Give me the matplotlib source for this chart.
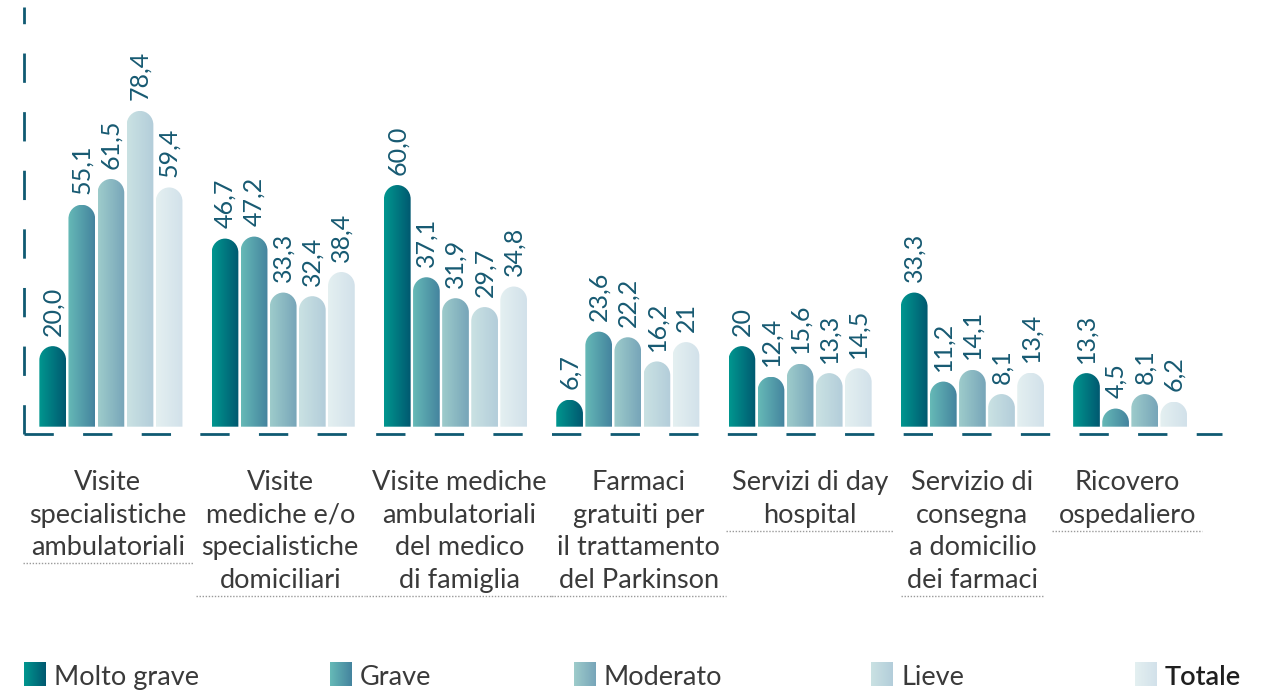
import numpy as np
import matplotlib
matplotlib.use("Agg")
import matplotlib.pyplot as plt
from matplotlib.path import Path
from matplotlib.patches import PathPatch
from matplotlib.colors import LinearSegmentedColormap
from matplotlib.transforms import blended_transform_factory

plt.rcParams['font.family'] = ['Lato', 'DejaVu Sans']
plt.rcParams['lines.scale_dashes'] = False

categories = [
    "Visite\nspecialistiche\nambulatoriali",
    "Visite\nmediche e/o\nspecialistiche\ndomiciliari",
    "Visite mediche\nambulatoriali\ndel medico\ndi famiglia",
    "Farmaci\ngratuiti per\nil trattamento\ndel Parkinson",
    "Servizi di day\nhospital",
    "Servizio di\nconsegna\na domicilio\ndei farmaci",
    "Ricovero\nospedaliero",
]
series_names = ["Molto grave", "Grave", "Moderato", "Lieve", "Totale"]
molto_grave = ["20,0", "46,7", "60,0", "6,7", "20", "33,3", "13,3"]
grave = ["55,1", "47,2", "37,1", "23,6", "12,4", "11,2", "4,5"]
moderato = ["61,5", "33,3", "31,9", "22,2", "15,6", "14,1", "8,1"]
lieve = ["78,4", "32,4", "29,7", "16,2", "13,3", "8,1", None]
totale = ["59,4", "38,4", "34,8", "21", "14,5", "13,4", "6,2"]
series = [molto_grave, grave, moderato, lieve, totale]

# gradient left -> right for each series
grad_colors = [
    ("#00978f", "#005870"),
    ("#66bab7", "#44839e"),
    ("#9ecccb", "#77a5b9"),
    ("#cae2e3", "#b3cdda"),
    ("#e4f0f1", "#d2e1ea"),
]
label_color = "#175a72"
text_color = "#3a3a3a"

W, H = 1267, 691
fig = plt.figure(figsize=(W / 100, H / 100), dpi=100)
ax = fig.add_axes([24 / W, (H - 433.5) / H, (1222 - 24) / W, (433.5 - 7) / H])
ov = fig.add_axes([0, 0, 1, 1], zorder=-1)
ov.set_xlim(0, W)
ov.set_ylim(H, 0)
ov.axis("off")

pitch = 0.1689
bw = 0.155
px_per_unit = 4.027
ry = 14 / px_per_unit
K = 0.5523

ax.set_xlim(-0.5044, 6.4486)
ax.set_ylim(-1.69, 104.2)
ax.axis("off")


def bar_path(x0, x1, h):
    rx = (x1 - x0) / 2
    r = min(ry, h)
    xc = x0 + rx
    verts = [(x0, 0), (x0, h - r),
             (x0, h - r + K * r), (xc - K * rx, h), (xc, h),
             (xc + K * rx, h), (x1, h - r + K * r), (x1, h - r),
             (x1, 0), (x0, 0)]
    codes = [Path.MOVETO, Path.LINETO,
             Path.CURVE4, Path.CURVE4, Path.CURVE4,
             Path.CURVE4, Path.CURVE4, Path.CURVE4,
             Path.LINETO, Path.CLOSEPOLY]
    return Path(verts, codes)


grad = np.linspace(0, 1, 256).reshape(1, -1)
cmaps = [LinearSegmentedColormap.from_list("c%d" % i, c) for i, c in enumerate(grad_colors)]

group_centers = []
for g in range(len(categories)):
    present = [s for s in range(5) if series[s][g] is not None]
    n = len(present)
    for j, s in enumerate(present):
        txt = series[s][g]
        v = float(txt.replace(",", "."))
        x0 = g + (j - 2) * pitch - bw / 2
        x1 = x0 + bw
        patch = PathPatch(bar_path(x0, x1, v), fc="none", ec="none", transform=ax.transData)
        ax.add_patch(patch)
        im = ax.imshow(grad, cmap=cmaps[s], extent=(x0, x1, 0, v), aspect="auto",
                       interpolation="bilinear")
        im.set_clip_path(patch)
        ax.text((x0 + x1) / 2, v + 2.6, txt, rotation=90, ha="center", va="bottom",
                fontsize=18, color=label_color)
    first = g - 2 * pitch - bw / 2
    group_centers.append(first + ((n - 1) * pitch + bw) / 2)

ax.set_xlim(-0.5044, 6.4486)
ax.set_ylim(-1.69, 104.2)

# dashed axes
axis_col = "#0f5a72"
ax.plot([0, 1], [0, 0], transform=ax.transAxes, clip_on=False, color=axis_col,
        lw=2.0, linestyle=(0, (21.1, 21.1)), solid_capstyle="butt")
ax.plot([0, 0], [0, 1], transform=ax.transAxes, clip_on=False, color=axis_col,
        lw=2.0, linestyle=(0, (21.1, 21.1)), solid_capstyle="butt")

# category labels (small horizontal nudges in pixels)
label_nudge = [-3, -3, 4, 11, 10, 0, -3]
tr = blended_transform_factory(ax.transData, ov.transData)
cat_texts = []
for g, lab in enumerate(categories):
    t = ax.text(group_centers[g] + label_nudge[g] / 172.3, 470, lab, transform=tr,
                ha="center", va="top", fontsize=19.5, color=text_color, linespacing=1.38)
    cat_texts.append(t)

# legend
leg_x = [24, 330, 574, 871, 1135]
for i, name in enumerate(series_names):
    x = leg_x[i]
    ov.imshow(grad, cmap=cmaps[i], extent=(x, x + 22, 686, 662), aspect="auto",
              interpolation="bilinear")
    ov.text(x + 30, 685, name, ha="left", va="baseline", fontsize=19.5,
            color="#1f1f1f" if name == "Totale" else text_color,
            fontweight="semibold" if name == "Totale" else "normal")
ov.set_xlim(0, W)
ov.set_ylim(H, 0)

# dotted underlines below category labels
fig.canvas.draw()
renderer = fig.canvas.get_renderer()
inv = ov.transData.inverted()
for t in cat_texts:
    bb = t.get_window_extent(renderer)
    (xa, ya), (xb, yb) = inv.transform([(bb.x0, bb.y0), (bb.x1, bb.y1)])
    ov.plot([xa - 6, xb + 6], [ya + 3, ya + 3], color="#9a9a9a", lw=1.0,
            linestyle=(0, (1.0, 1.2)))

fig.savefig("out.png", dpi=100)
